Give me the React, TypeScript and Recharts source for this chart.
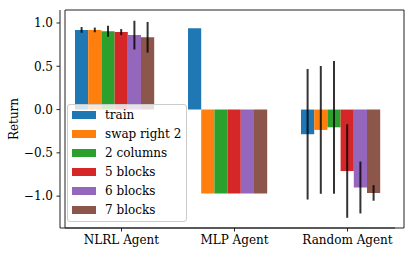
import { BarChart, Bar, XAxis, YAxis, ErrorBar, Legend, ReferenceArea } from "recharts";

// Grouped bars with error bars: return of each agent on each task variant.

const categories = ["NLRL Agent", "MLP Agent", "Random Agent"];
const seriesNames = ["train", "swap right 2", "2 columns", "5 blocks", "6 blocks", "7 blocks"];
const colors = ["#1f77b4", "#ff7f0e", "#2ca02c", "#d62728", "#9467bd", "#8c564b"];

const trainVals = [0.92, 0.94, -0.285];
const trainErr = [0.033, 0, 0.754];
const swapVals = [0.92, -0.97, -0.235];
const swapErr = [0.027, 0, 0.738];
const columnsVals = [0.905, -0.97, -0.205];
const columnsErr = [0.064, 0, 0.767];
const blocks5Vals = [0.895, -0.97, -0.71];
const blocks5Err = [0.035, 0, 0.54];
const blocks6Vals = [0.86, -0.97, -0.9];
const blocks6Err = [0.166, 0, 0.3];
const blocks7Vals = [0.835, -0.97, -0.963];
const blocks7Err = [0.177, 0, 0.09];

const yTicks = [-1.0, -0.5, 0.0, 0.5, 1.0];
const yDomain = [-1.368, 1.15];

const values = [trainVals, swapVals, columnsVals, blocks5Vals, blocks6Vals, blocks7Vals];
const errors = [trainErr, swapErr, columnsErr, blocks5Err, blocks6Err, blocks7Err];

const data = categories.map((name, i) => {
  const row: Record<string, string | number | null> = { name, pad: null };
  values.forEach((vals, s) => {
    row[`v${s}`] = vals[i];
    row[`e${s}`] = errors[s][i];
  });
  return row;
});

const FONT = "'DejaVu Serif', serif";
const INK = "#222";

const fmtY = (v: number) => (v === 0 ? "0.0" : v.toFixed(1).replace("-", "\u2212"));

function LegendBox() {
  return (
    <div
      style={{
        boxSizing: "border-box",
        width: 120,
        height: 118,
        padding: "1px 4px 3px 4px",
        border: "1px solid #cccccc",
        borderRadius: 3,
        background: "rgba(255,255,255,0.8)",
        fontFamily: FONT,
        fontSize: 12,
        color: "#000",
      }}
    >
      {seriesNames.map((s, i) => (
        <div key={s} style={{ display: "flex", alignItems: "center", height: 18.9 }}>
          <span style={{ width: 24, height: 8, background: colors[i], marginRight: 9, flex: "none" }} />
          <span style={{ whiteSpace: "nowrap" }}>{s}</span>
        </div>
      ))}
    </div>
  );
}

export default function App() {
  return (
    <div style={{ position: "absolute", left: 0, top: 0 }}>
      <BarChart
        width={405}
        height={255}
        data={data}
        margin={{ top: 10, right: 10, left: 0, bottom: 0 }}
        barGap={0}
        barSize={13.2}
      >
        <XAxis
          dataKey="name"
          height={27}
          padding={{ left: 5, right: -9 }}
          stroke={INK}
          tickSize={3.5}
          tickMargin={4}
          tick={{ fill: "#000", fontSize: 12, fontFamily: FONT }}
        />
        <YAxis
          domain={yDomain}
          ticks={yTicks}
          width={60}
          stroke={INK}
          tickSize={3.5}
          tickMargin={3.5}
          tickFormatter={fmtY}
          tick={{ fill: "#000", fontSize: 12, fontFamily: FONT }}
          label={{ value: "Return", angle: -90, position: "center", dx: -16, fill: "#000", fontSize: 12, fontFamily: FONT }}
        />
        {seriesNames.map((s, i) => (
          <Bar key={s} dataKey={`v${i}`} name={s} fill={colors[i]} isAnimationActive={false}>
            <ErrorBar dataKey={`e${i}`} width={0} strokeWidth={2} stroke="#000" strokeOpacity={0.8} direction="y" />
          </Bar>
        ))}
        {/* empty seventh slot so the 4th bar sits on the tick, as in the source */}
        <Bar dataKey="pad" legendType="none" fill="none" isAnimationActive={false} />
        {/* axes frame (top and right spines) */}
        <ReferenceArea y1={yDomain[0]} y2={yDomain[1]} fill="none" stroke={INK} strokeWidth={1} ifOverflow="visible" />
        <Legend
          layout="vertical"
          align="center"
          verticalAlign="middle"
          wrapperStyle={{ left: 67, top: 104, width: "auto" }}
          content={() => <LegendBox />}
        />
      </BarChart>
    </div>
  );
}
